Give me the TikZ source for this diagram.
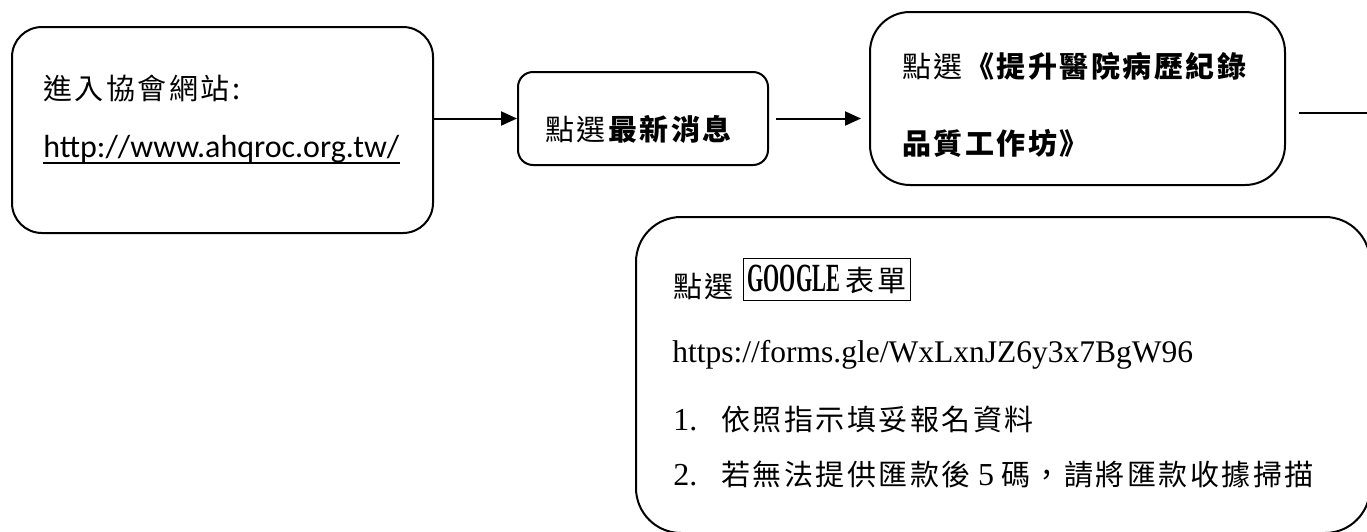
\documentclass[tikz,border=0pt]{standalone}
\usepackage{fontspec}
\usepackage{tikz}
\usetikzlibrary{arrows.meta}
\setmainfont{Liberation Serif}
\newfontfamily\cjk[LetterSpace=8.6]{Noto Sans CJK TC}
\newfontfamily\calibri{Carlito}

\begin{document}
\begin{tikzpicture}[x=0.5pt,y=-0.5pt,
  box/.style={draw,line width=1pt,inner sep=0pt},
  txt/.style={anchor=base west,inner sep=0pt,font=\fontsize{14.5}{17}\selectfont},
  flow/.style={line width=1pt,-{Triangle[length=8pt,width=7pt]}}]
\useasboundingbox (0,0) rectangle (1367,531);
\clip (0,0) rectangle (1367,531);
% the four steps
\node[box,rounded corners=15pt,minimum width=210.5pt,minimum height=103pt] (site) at (222.5,130) {};
\node[box,rounded corners=7.5pt,minimum width=125pt,minimum height=46.5pt] (news) at (643,118.5) {};
\node[box,rounded corners=20pt,minimum width=207.5pt,minimum height=86.5pt] (ws) at (1077.5,98.5) {};
\node[box,rounded corners=22.5pt,minimum width=367pt,minimum height=158pt] (form) at (1003,375) {};
% texts
\node[txt] (siteA) at (43,99) {\cjk 進入協會網站:};
\node[txt,font=\fontsize{16}{18}\calibri] (siteB) at (43,157) {http://www.ahqroc.org.tw/};
\draw[line width=0.6pt] ([yshift=-3pt]siteB.base west) -- ([yshift=-3pt]siteB.base east);
\node[txt] (newsT) at (545,140) {\cjk 點選\textbf{最新消息}};
\node[txt] (wsA) at (902,77) {\cjk 點選\textbf{《提升醫院病歷紀錄}};
\node[txt] (wsB) at (902,154) {\cjk\bfseries 品質工作坊》};
\node[txt] (formA) at (673,297) {\cjk 點選};
\node[draw,line width=0.5pt,anchor=west,inner xsep=2pt,inner ysep=0pt,minimum height=21pt] (gform) at (743,279)
  {\scalebox{0.52}[1]{\fontsize{20}{22}\selectfont\bfseries GOOGLE}\hspace{3pt}{\fontsize{14.5}{17}\cjk 表單}};
\node[txt,font=\fontsize{15.75}{18}\selectfont] (formurl) at (672,362) {https://forms.gle/WxLxnJZ6y3x7BgW96};
\node[txt] (step1) at (673,430) {{\fontsize{16}{18}\selectfont 1.}\hspace{12pt}{\cjk 依照指示填妥報名資料}};
\node[txt] (step2) at (673,485) {{\fontsize{16}{18}\selectfont 2.}\hspace{12pt}{\cjk 若無法提供匯款後}\ {\fontsize{16}{18}\selectfont 5}\ {\cjk 碼，請將匯款收據掃描}};
% connectors
\draw[flow] (site.east |- news.west) -- (news.west);
\draw[flow,shorten <=3.5pt,shorten >=4pt] (news.east) -- (news.east -| ws.west);
\coordinate (out) at (1367,113);
\draw[line width=1pt,shorten <=6.5pt] (ws.east |- out) -- (out);
\end{tikzpicture}
\end{document}
